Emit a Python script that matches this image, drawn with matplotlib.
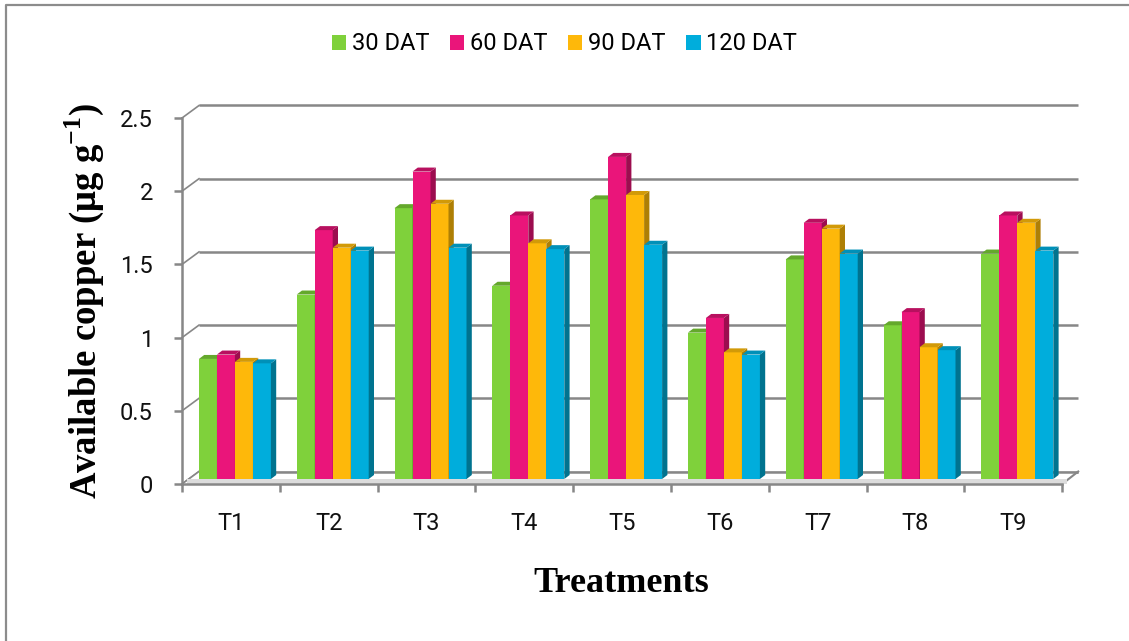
import matplotlib
matplotlib.use('Agg')
import matplotlib.pyplot as plt
from matplotlib.patches import Polygon, Patch
from matplotlib.lines import Line2D

plt.rcParams['mathtext.fontset'] = 'custom'
plt.rcParams['mathtext.rm'] = 'Liberation Serif'
plt.rcParams['mathtext.bf'] = 'Liberation Serif:bold'

# ---- data ----
treatments = ['T1', 'T2', 'T3', 'T4', 'T5', 'T6', 'T7', 'T8', 'T9']
series_names = ['30 DAT', '60 DAT', '90 DAT', '120 DAT']
dat30 = [0.82, 1.26, 1.85, 1.32, 1.91, 1.00, 1.50, 1.05, 1.54]
dat60 = [0.85, 1.70, 2.10, 1.80, 2.20, 1.10, 1.75, 1.14, 1.80]
dat90 = [0.80, 1.58, 1.88, 1.61, 1.94, 0.865, 1.71, 0.90, 1.75]
dat120 = [0.79, 1.56, 1.58, 1.57, 1.60, 0.85, 1.54, 0.88, 1.56]
yticks = [0, 0.5, 1, 1.5, 2, 2.5]
ytick_labels = ['0', '0.5', '1', '1.5', '2', '2.5']

series = [dat30, dat60, dat90, dat120]
front_cols = ['#7FD13B', '#EA157A', '#FEB80A', '#00ADDC']
top_cols = ['#64A82C', '#B8105F', '#D29A08', '#0090B8']
side_cols = ['#558F24', '#9C0D4F', '#AE7F05', '#00738F']
GRAY = '#878787'

W, H, DPI = 1129, 641, 100
fig = plt.figure(figsize=(W / DPI, H / DPI), dpi=DPI)
fig.patch.set_facecolor('white')

# axes geometry (pixels)
ax_left_px, ax_right_px = 182, 1082
y0_px = 484
ppy = 146.4          # pixels per unit value
ppx = 97.8           # pixels per category
ymax = 2.62
ax_top_px = y0_px - ymax * ppy
ax = fig.add_axes([ax_left_px / W, (H - y0_px) / H,
                   (ax_right_px - ax_left_px) / W, (y0_px - ax_top_px) / H])
n = len(treatments)
ax.set_xlim(-0.5, -0.5 + (ax_right_px - ax_left_px) / ppx)
ax.set_ylim(0, ymax)
ax.set_facecolor('none')

# 3D offsets in data units
wall_dx, wall_dy = 17 / ppx, 12.5 / ppy
floor_dx = 16 / ppx
bar_dx, bar_dy = 4 / ppx, 5 / ppy
dep_dx, dep_dy = 5.3 / ppx, 4 / ppy
lw = 1.8

# back wall gridlines + diagonals
x_end = n - 0.5 + floor_dx
for t in yticks:
    ax.plot([-0.5 + wall_dx, x_end], [t + wall_dy] * 2, color=GRAY, lw=lw,
            solid_capstyle='butt', zorder=1, clip_on=False)
    ax.plot([-0.5, -0.5 + wall_dx], [t, t + wall_dy], color=GRAY, lw=1.2,
            zorder=1, clip_on=False)
# floor
ax.add_patch(Polygon([(-0.5, 0), (n - 0.5, 0), (x_end, wall_dy), (-0.5 + wall_dx, wall_dy)],
                     closed=True, facecolor='white', edgecolor='none', zorder=1.5))
ax.plot([-0.5 + wall_dx, x_end], [wall_dy] * 2, color=GRAY, lw=lw, zorder=1.6,
        solid_capstyle='butt')
ax.plot([-0.5, -0.5 + wall_dx], [0, wall_dy], color=GRAY, lw=1.2, zorder=1.6)
ax.plot([n - 0.5, x_end], [0, wall_dy], color=GRAY, lw=1.5, zorder=1.6, clip_on=False)
ax.fill_between([-0.5 + 5 / ppx, n - 0.5 + 5 / ppx], 0.3 / ppy, bar_dy,
                color='#DCDCDC', lw=0, zorder=1.7)

# bars
bw = 18 / ppx
for j, (vals, fc, tc, sc) in enumerate(zip(series, front_cols, top_cols, side_cols)):
    xs = [i - 2 * bw + bw * (j + 0.5) + bar_dx for i in range(n)]
    ax.bar(xs, vals, width=bw, bottom=bar_dy, color=fc, lw=0, zorder=3 + j)
    for xc, v in zip(xs, vals):
        xl, xr = xc - bw / 2, xc + bw / 2
        top = bar_dy + v
        ax.add_patch(Polygon([(xr, bar_dy), (xr + dep_dx, bar_dy + dep_dy),
                              (xr + dep_dx, top + dep_dy), (xr, top)],
                             closed=True, facecolor=sc, lw=0, zorder=3 + j))
        ax.add_patch(Polygon([(xl, top), (xl + dep_dx, top + dep_dy),
                              (xr + dep_dx, top + dep_dy), (xr, top)],
                             closed=True, facecolor=tc, lw=0, zorder=3 + j))

# axes spines / ticks
for s in ['top', 'right']:
    ax.spines[s].set_visible(False)
for s in ['left', 'bottom']:
    ax.spines[s].set_color(GRAY)
    ax.spines[s].set_linewidth(lw)
    ax.spines[s].set_zorder(10)
ax.spines['left'].set_bounds(0, 2.5)
ax.spines['bottom'].set_bounds(-0.5, n - 0.5)

ax.set_yticks(yticks)
ax.set_yticklabels(ytick_labels)
ax.tick_params(axis='y', length=6, width=lw, color=GRAY, pad=15,
               labelsize=17, labelcolor='#111111')
ax.set_xticks(range(n))
ax.set_xticklabels(treatments)
ax.tick_params(axis='x', which='major', length=0, pad=20, labelsize=17,
               labelcolor='#111111')
ax.set_xticks([i - 0.5 for i in range(n + 1)], minor=True)
ax.tick_params(axis='x', which='minor', length=6, width=lw, color=GRAY)
for lab in ax.get_xticklabels() + ax.get_yticklabels():
    lab.set_fontfamily('Roboto')

# axis titles
fig.text(621 / W, 1 - 583 / H, 'Treatments', ha='center', va='center',
         fontsize=26, fontweight='bold', family='Liberation Serif')
fig.text(84 / W, 1 - 301 / H, 'Available copper (μg g$^{\\mathbf{-1}}$)',
         ha='center', va='center', rotation=90, fontsize=26.5, fontweight='bold',
         family='Liberation Serif')

# legend
handles = [Patch(facecolor=c, edgecolor='none') for c in front_cols]
leg = fig.legend(handles, series_names, loc='center',
                 bbox_to_anchor=(564.5 / W, 1 - 44 / H), ncol=4, frameon=False,
                 prop={'family': 'Roboto', 'size': 17}, handlelength=0.62,
                 handleheight=0.62, handletextpad=0.25, columnspacing=0.85)

# outer frame
fig.add_artist(Line2D([6 / W, 6 / W, 1.0], [0, 1 - 5 / H, 1 - 5 / H],
                      transform=fig.transFigure, color='#8C8C8C', lw=1.6))

fig.savefig('out.png', dpi=DPI)
